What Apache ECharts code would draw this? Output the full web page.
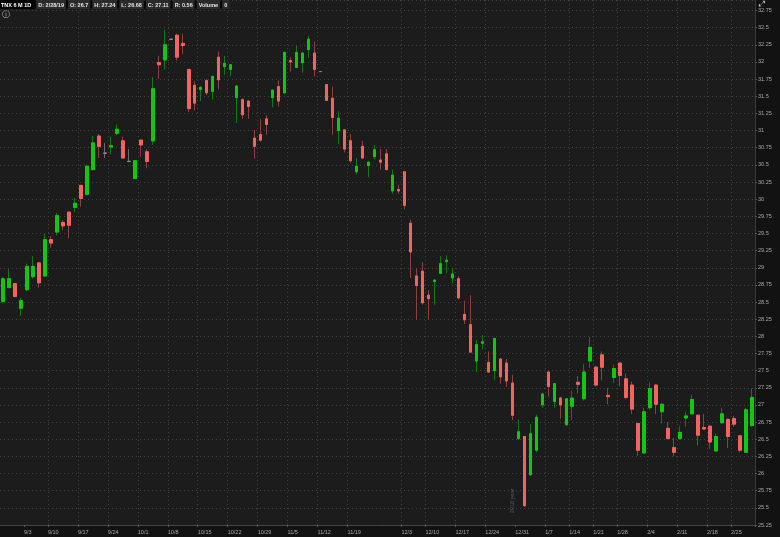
<!DOCTYPE html>
<html>
<head>
<meta charset="utf-8">
<script src="https://cdn.jsdelivr.net/npm/echarts@6/dist/echarts.min.js"></script>
<style>
html,body{margin:0;padding:0;background:#121212;}
#c{width:780px;height:537px;}
</style>
</head>
<body>
<div id="c"></div>
<script>
const dates = ['8/28','8/29','8/30','8/31','9/4','9/5','9/6','9/7','9/10','9/11','9/12','9/13','9/14','9/17','9/18','9/19','9/20','9/21','9/24','9/25','9/26','9/27','9/28','10/1','10/2','10/3','10/4','10/5','10/8','10/9','10/10','10/11','10/12','10/15','10/16','10/17','10/18','10/19','10/22','10/23','10/24','10/25','10/26','10/29','10/30','10/31','11/1','11/2','11/5','11/6','11/7','11/8','11/9','11/12','11/13','11/14','11/15','11/16','11/19','11/20','11/21','11/23','11/26','11/27','11/28','11/29','11/30','12/3','12/4','12/6','12/7','12/10','12/11','12/12','12/13','12/14','12/17','12/18','12/19','12/20','12/21','12/24','12/26','12/27','12/28','12/31','1/2','1/3','1/4','1/7','1/8','1/9','1/10','1/11','1/14','1/15','1/16','1/17','1/18','1/22','1/23','1/24','1/25','1/28','1/29','1/30','1/31','2/1','2/4','2/5','2/6','2/7','2/8','2/11','2/12','2/13','2/14','2/15','2/19','2/20','2/21','2/22','2/25','2/26','2/27','2/28'];

const opens = [28.51,28.71,28.77,28.41,28.68,28.87,29.07,28.88,29.41,29.52,29.66,29.81,29.88,30.20,30.07,30.43,30.92,30.67,30.76,30.96,30.85,30.55,30.30,30.86,30.69,30.85,31.99,32.03,32.33,32.39,32.27,31.89,31.66,31.60,31.73,31.57,32.07,31.93,31.89,31.48,31.45,31.43,30.89,30.94,31.17,31.48,31.64,31.55,32.02,31.92,31.99,32.18,32.13,31.86,31.67,31.47,31.00,31.01,30.85,30.40,30.77,30.49,30.62,30.57,30.66,30.12,30.14,30.40,29.65,28.88,28.95,28.60,28.80,28.92,29.09,28.85,28.84,28.32,28.17,27.64,27.90,27.62,27.50,27.67,27.61,27.32,26.51,26.54,25.98,26.34,27.00,27.48,27.05,27.10,26.71,26.98,27.33,27.09,27.64,27.55,27.73,27.14,27.40,27.61,27.38,27.29,26.73,26.30,26.96,27.29,26.90,26.66,26.38,26.51,26.81,26.87,26.85,26.67,26.69,26.33,26.74,26.79,26.80,26.55,26.31,26.70];
const highs = [28.86,28.98,28.78,28.56,29.06,29.17,29.08,29.49,29.46,29.80,29.69,29.82,30.02,30.21,30.50,30.92,30.95,30.82,30.91,31.09,30.91,30.73,30.57,30.87,30.73,31.78,32.09,32.47,32.33,32.41,32.41,31.90,31.72,31.65,31.75,31.80,32.15,32.09,31.97,31.66,31.47,31.44,31.01,31.17,31.22,31.60,31.73,32.15,32.07,32.24,32.14,32.38,32.30,31.86,31.68,31.64,31.28,31.02,30.95,30.60,30.85,30.55,30.79,30.73,30.73,30.43,30.21,30.41,29.70,28.99,29.08,28.67,28.83,29.17,29.18,29.00,28.88,28.52,28.60,27.95,28.02,27.78,27.98,27.68,27.67,27.44,26.79,26.55,26.72,26.86,27.17,27.49,27.32,27.12,27.10,27.21,27.42,27.60,27.99,27.57,27.78,27.25,27.59,27.62,27.46,27.34,26.74,26.96,27.33,27.30,27.02,26.75,26.52,26.69,26.90,27.15,26.86,26.87,26.70,26.58,26.96,26.80,26.84,26.56,26.96,27.24];
const lows = [28.48,28.70,28.57,28.30,28.66,28.84,28.71,28.86,29.29,29.47,29.55,29.43,29.81,29.89,30.05,30.42,30.60,30.60,30.65,30.93,30.59,30.54,30.29,30.62,30.45,30.79,31.75,31.89,32.33,32.02,32.12,31.27,31.30,31.43,31.52,31.45,31.60,31.81,31.79,31.11,31.17,31.17,30.59,30.84,30.94,31.34,31.35,31.53,31.86,31.91,31.84,32.06,31.79,31.86,31.43,30.94,30.80,30.68,30.53,30.36,30.59,30.32,30.58,30.43,30.42,30.08,30.08,29.85,28.85,28.24,28.46,28.24,28.46,28.91,28.92,28.77,28.54,28.18,27.76,27.48,27.81,27.47,27.36,27.31,27.26,26.78,26.49,25.52,25.97,26.31,26.96,27.12,26.96,26.80,26.70,26.78,27.17,27.06,27.54,27.27,27.36,27.01,27.32,27.27,27.08,26.87,26.26,26.29,26.93,26.87,26.73,26.50,26.25,26.49,26.68,26.86,26.41,26.64,26.36,26.32,26.73,26.37,26.68,26.31,26.30,26.68];
const closes = [28.84,28.84,28.58,28.52,29.02,29.02,28.78,29.41,29.36,29.76,29.61,29.62,29.94,30.01,30.48,30.82,30.77,30.67,30.78,31.02,30.60,30.55,30.56,30.79,30.55,31.61,31.96,32.25,32.33,32.07,32.24,31.32,31.40,31.63,31.55,31.79,31.74,31.98,31.96,31.65,31.23,31.35,30.77,30.86,31.09,31.59,31.43,32.14,32.00,32.14,32.13,32.33,31.89,31.86,31.44,31.19,31.18,30.73,30.56,30.48,30.60,30.54,30.72,30.54,30.43,30.35,30.12,29.91,29.23,28.74,28.49,28.55,28.82,29.06,29.11,28.91,28.56,28.24,27.77,27.88,27.92,27.48,27.97,27.41,27.35,26.85,26.61,25.53,26.58,26.82,27.16,27.27,27.31,27.00,27.09,27.10,27.30,27.48,27.84,27.29,27.55,27.12,27.53,27.43,27.11,26.94,26.34,26.90,27.24,27.01,27.01,26.51,26.31,26.60,26.84,27.08,26.56,26.65,26.46,26.54,26.87,26.54,26.72,26.34,26.93,27.11];

const tickIdx = [4,8,13,18,23,28,33,38,43,48,53,58,67,71,76,81,86,91,95,99,103,108,113,118,122];
const tickLabels = ['9/3','9/10','9/17','9/24','10/1','10/8','10/15','10/22','10/29','11/5','11/12','11/19','12/3','12/10','12/17','12/24','12/31','1/7','1/14','1/21','1/28','2/4','2/11','2/18','2/25'];
const yearLineIdx = 86;
const yTicks = {min: 25.25, step: 0.25};
const symbolName = 'TNX 6 M 1D';
const lastDateLabel = '2/28/19';

const G = '#14c614', R = '#f2645f';
const GW = '#137813', RW = '#8e403e';
const FONT = '"Liberation Sans",Arial,sans-serif';
const GRIDC = '#434343';
const AX_FS = 5.5;

const labelMap = new Map(tickIdx.map((k, i) => [k, tickLabels[i]]));
const gridSet = new Set(tickIdx.filter(k => k !== yearLineIdx));

const n = closes.length;
const full = dates.map((d, i) => [opens[i], closes[i], lows[i], highs[i]]);
const body = dates.map((d, i) => [opens[i], closes[i], Math.min(opens[i], closes[i]), Math.max(opens[i], closes[i])]);

const lo = opens[n-1], hi = highs[n-1], lw = lows[n-1], cl = closes[n-1];
const fmt = v => String(parseFloat(v.toFixed(2)));
const hdr = '{n|' + symbolName + '}{g| }{f|D: ' + lastDateLabel + '}{g| }{f|O: ' + fmt(lo) + '}{g| }{f|H: ' + fmt(hi) +
  '}{g| }{f|L: ' + fmt(lw) + '}{g| }{f|C: ' + fmt(cl) + '}{g| }{f|R: ' + fmt(hi - lw) + '}{g| }{f|Volume}{g| }{f|0}';

const chart = echarts.init(document.getElementById('c'), null, {renderer: 'canvas'});
const pxPerUnit = 68.6;
const gridBottom = 12, gridTop = 0;
const plotH = 537 - gridBottom - gridTop;

const option = {
  animation: false,
  backgroundColor: '#121212',
  title: {
    left: 0, top: 0, padding: 0, itemGap: 0,
    text: hdr,
    textStyle: {
      fontSize: 5, fontFamily: FONT,
      rich: {
        n: {color: '#ffffff', fontWeight: 'bold', fontSize: 5.5, fontFamily: FONT, backgroundColor: '#000', padding: [2, 3, 1, 1], lineHeight: 9},
        f: {color: '#e6e6e6', fontSize: 5.5, fontFamily: FONT, backgroundColor: '#2b2b2b', padding: [2, 2, 1, 2], lineHeight: 9},
        g: {fontSize: 5, width: 2, backgroundColor: '#000', lineHeight: 9, padding: [2, 0, 1, 0]}
      }
    }
  },
  grid: {left: 0, right: 25, top: gridTop, bottom: gridBottom, show: true, backgroundColor: '#1c1c1c', borderWidth: 0},
  xAxis: [{
    type: 'category', data: dates, boundaryGap: true,
    axisLine: {show: true, lineStyle: {color: '#464646'}},
    axisTick: {show: true, length: 2, interval: (i) => labelMap.has(i), lineStyle: {color: '#555'}},
    axisLabel: {
      interval: (i) => labelMap.has(i),
      formatter: (v, i) => labelMap.get(i) || '',
      align: 'left', padding: [0, 0, 0, -3], color: '#a8a8a8', fontSize: AX_FS, fontFamily: FONT, margin: 4
    },
    splitLine: {show: true, showMinLine: false, showMaxLine: false, interval: (i) => gridSet.has(i), lineStyle: {color: GRIDC, type: [1, 3], width: 1}}
  }, {
    type: 'category', data: dates, boundaryGap: true, position: 'bottom',
    axisLine: {show: false}, axisTick: {show: false}, axisLabel: {show: false},
    splitLine: {show: true, showMinLine: false, showMaxLine: false, interval: (i) => i === yearLineIdx, lineStyle: {color: '#5a5a5a', type: [4, 3], width: 1}}
  }],
  yAxis: {
    type: 'value', position: 'right', scale: true,
    min: yTicks.min, max: yTicks.min + plotH / pxPerUnit, interval: yTicks.step,
    axisLine: {show: true, lineStyle: {color: '#3a3a3a'}},
    axisTick: {show: true, length: 2, lineStyle: {color: '#555'}},
    axisLabel: {color: '#a8a8a8', fontSize: AX_FS, fontFamily: FONT, margin: 3, showMaxLabel: false, showMinLabel: true},
    splitLine: {show: true, lineStyle: {color: GRIDC, type: [1, 3], width: 1}}
  },
  series: [{
    type: 'candlestick', name: 'wick', data: full, barWidth: 3, xAxisIndex: 0,
    itemStyle: {color: GW, color0: RW, borderColor: GW, borderColor0: RW, borderColorDoji: '#6a6a6a', borderWidth: 1}
  }, {
    type: 'candlestick', name: 'body', data: body, barWidth: 3, xAxisIndex: 0,
    itemStyle: {color: G, color0: R, borderColor: G, borderColor0: R, borderColorDoji: '#8c8c8c', borderWidth: 1},
    markLine: {
      silent: true, symbol: 'none', animation: false,
      lineStyle: {opacity: 0},
      data: [{yAxis: cl}],
      label: {
        show: true, position: 'end', distance: 2, formatter: fmt(cl),
        backgroundColor: '#1fbf2a', color: '#ffffff', padding: [1, 3], borderRadius: 2,
        fontSize: AX_FS, fontFamily: FONT
      }
    }
  }]
};
chart.setOption(option);

const xY = chart.convertToPixel({xAxisIndex: 0}, dates[yearLineIdx - 1]);
const yY = chart.convertToPixel({yAxisIndex: 0}, yTicks.min + 0.35);
chart.setOption({
  graphic: [
    {type: 'text', x: xY, y: yY, rotation: Math.PI / 2,
     style: {text: '2018 year', fill: '#5c5c5c', fontSize: 5.5, fontFamily: FONT, align: 'center', verticalAlign: 'middle'}, z: 10},
    {type: 'text', x: 2, y: 11, style: {text: '\u24D8', fill: '#bdbdbd', fontSize: 8, fontFamily: 'DejaVu Sans'}, z: 10},
    {type: 'text', x: 759, y: 0, style: {text: '\u2922', fill: '#cfcfcf', fontSize: 8, fontFamily: 'DejaVu Sans'}, z: 10}
  ]
});
</script>
</body>
</html>
